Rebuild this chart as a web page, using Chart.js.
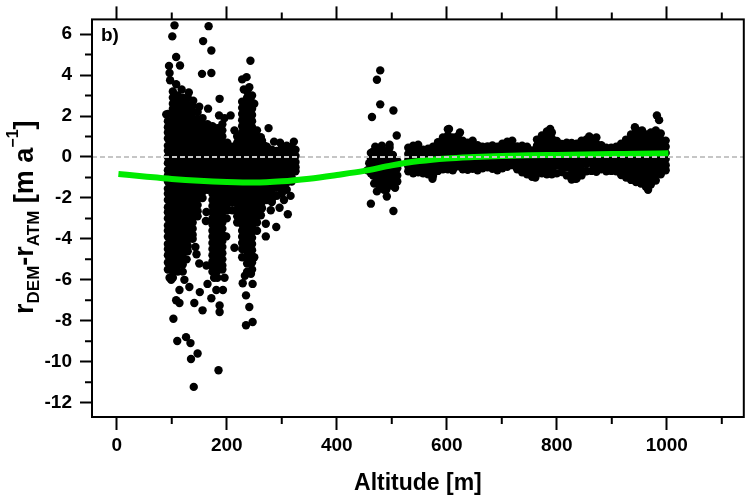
<!DOCTYPE html>
<html><head><meta charset="utf-8">
<script src="https://cdn.jsdelivr.net/npm/chart.js@4.4.0/dist/chart.umd.min.js"></script>
<style>html,body{margin:0;padding:0;background:#fff;}canvas{display:block;}</style>
</head><body>
<canvas id="c" width="748" height="497"></canvas>
<script>
const FONT = '"Liberation Sans", Arial, Helvetica, sans-serif';

// ---- axis ticks / labels ----
const xMajorTicks = [0, 200, 400, 600, 800, 1000];
const xMinorTicks = [100, 300, 500, 700, 900, 1100];
const yMajorTicks = [-12, -10, -8, -6, -4, -2, 0, 2, 4, 6];
const yMinorTicks = [-11, -9, -7, -5, -3, -1, 1, 3, 5];
const xTitle = 'Altitude [m]';
const panelLabel = 'b)';
const zeroLine = 0;
const yTitleParts = [
  {t: 'r', sz: 27, dy: 0}, {t: 'DEM', sz: 17, dy: 6}, {t: '-', sz: 27, dy: 0},
  {t: 'r', sz: 27, dy: 0}, {t: 'ATM', sz: 17, dy: 6}, {t: ' [m a', sz: 27, dy: 0},
  {t: '\u22121', sz: 16, dy: -15}, {t: ']', sz: 27, dy: 0}
];

// ---- green fit curve ----
const fitAlt = [3, 50, 100, 150, 200, 250, 300, 350, 400, 450, 500, 550, 600, 650, 700, 750, 800, 850, 900, 950, 1003];
const fitRes = [-0.83, -0.95, -1.07, -1.16, -1.22, -1.25, -1.19, -1.06, -0.88, -0.68, -0.41, -0.2, -0.07, 0.0, 0.05, 0.08, 0.1, 0.12, 0.14, 0.16, 0.18];

// ---- dense low-altitude cluster, by altitude column ----
const westAlt = [93, 102, 111, 120, 129, 138, 147, 156, 165, 174, 183, 192, 201, 210, 219, 228, 237, 246, 255, 264, 273, 282, 291, 300, 309, 318, 325];
const westRes = [
  [2.1, 1.75, 1.45, 1.2, 0.9, 0.55, 0.3, 0.0, -0.3, -0.65, -0.9, -1.2, -1.55, -1.8, -2.1, -2.45, -2.7, -3.0, -3.35, -3.6, -3.9, -4.25, -4.5, -4.8, -5.15, -5.5],
  [3.2, 2.9, 2.6, 2.35, 2.05, 1.75, 1.45, 1.15, 0.85, 0.6, 0.3, 0.0, -0.25, -0.55, -0.85, -1.15, -1.45, -1.75, -2.05, -2.35, -2.6, -2.9, -3.2, -3.5, -3.8, -4.1, -4.4, -4.7, -5.0, -5.3, -5.6, -5.9],
  [3.0, 2.7, 2.4, 2.1, 1.8, 1.55, 1.25, 0.95, 0.65, 0.35, 0.05, -0.25, -0.55, -0.85, -1.1, -1.4, -1.7, -2.0, -2.3, -2.6, -2.9, -3.2, -3.5, -3.8, -4.1, -4.4, -4.7, -5.0, -5.3, -5.6],
  [2.9, 2.6, 2.3, 2.0, 1.7, 1.4, 1.1, 0.8, 0.5, 0.2, -0.1, -0.4, -0.7, -1.0, -1.3, -1.6, -1.9, -2.2, -2.5, -2.8, -3.1, -3.4, -3.7, -4.0, -4.3, -4.6, -4.9, -5.25],
  [2.9, 2.55, 2.25, 1.95, 1.65, 1.35, 1.05, 0.75, 0.45, 0.15, -0.15, -0.45, -0.75, -1.05, -1.35, -1.65, -1.95, -2.25, -2.55, -2.85, -3.15, -3.45, -3.75, -4.05, -4.35, -4.6],
  [2.5, 2.2, 1.9, 1.6, 1.3, 1.0, 0.7, 0.4, 0.1, -0.2, -0.5, -0.8, -1.1, -1.4, -1.7, -2.0, -2.3, -2.6, -2.9, -3.2, -3.5, -3.8, -4.0],
  [2.2, 1.85, 1.55, 1.25, 0.95, 0.65, 0.35, 0.05, -0.25, -0.55, -0.85, -1.15, -1.45, -1.75, -2.05, -2.35, -2.65, -2.9],
  [1.9, 1.6, 1.3, 1.0, 0.7, 0.4, 0.1, -0.2, -0.5, -0.8, -1.1, -1.4, -1.7, -2.0],
  [1.6, 1.25, 0.95, 0.65, 0.35, 0.05, -0.25, -0.55, -0.85, -1.15, -1.4, -1.6],
  [1.5, 1.2, 0.9, 0.6, 0.3, 0.0, -0.3, -0.6, -0.9, -1.2, -1.5, -1.8, -2.1, -2.4, -2.7, -3.0, -3.3, -3.6, -3.9, -4.2, -4.5, -4.8, -5.1, -5.35, -5.6],
  [1.4, 1.05, 0.75, 0.45, 0.15, -0.15, -0.45, -0.75, -1.05, -1.35, -1.65, -1.95, -2.25, -2.55, -2.85, -3.15, -3.45, -3.75, -4.05, -4.35, -4.65, -4.95, -5.25, -5.55, -5.9],
  [1.6, 1.3, 1.0, 0.7, 0.4, 0.1, -0.2, -0.5, -0.8, -1.1, -1.4, -1.7, -2.0, -2.3, -2.6, -2.9, -3.2, -3.5, -3.8, -4.1, -4.4, -4.7, -5.0, -5.3, -5.5],
  [0.7, 0.4, 0.1, -0.2, -0.5, -0.8, -1.1, -1.4, -1.7, -2.0, -2.3, -2.6],
  [0.5, 0.2, -0.1, -0.4, -0.7, -1.0, -1.3, -1.6, -1.9, -2.2],
  [1.0, 0.7, 0.4, 0.1, -0.2, -0.5, -0.8, -1.1, -1.4, -1.7, -2.0, -2.3, -2.6, -2.9, -3.2],
  [2.7, 2.4, 2.1, 1.8, 1.5, 1.2, 0.9, 0.6, 0.3, 0.0, -0.3, -0.6, -0.9, -1.2, -1.5, -1.8, -2.1, -2.4, -2.7, -3.0, -3.3, -3.6, -3.9, -4.2, -4.5, -4.9],
  [3.2, 2.9, 2.6, 2.3, 2.0, 1.7, 1.4, 1.1, 0.8, 0.5, 0.2, -0.1, -0.4, -0.7, -1.0, -1.3, -1.6, -1.9, -2.2, -2.5, -2.8, -3.1, -3.4, -3.7, -4.0, -4.3, -4.6, -4.9, -5.2, -5.6],
  [3.0, 2.65, 2.35, 2.05, 1.75, 1.45, 1.15, 0.85, 0.55, 0.25, -0.05, -0.35, -0.65, -0.95, -1.25, -1.55, -1.85, -2.15, -2.45, -2.75, -3.05, -3.35, -3.65, -3.95, -4.25, -4.55, -4.85, -5.15, -5.5],
  [1.3, 1.0, 0.7, 0.4, 0.1, -0.2, -0.5, -0.8, -1.1, -1.4, -1.7, -2.0, -2.3, -2.6, -2.9, -3.2, -3.6],
  [0.8, 0.5, 0.2, -0.1, -0.4, -0.7, -1.0, -1.3, -1.6, -1.9, -2.2, -2.5],
  [0.5, 0.2, -0.1, -0.4, -0.7, -1.0, -1.3, -1.6, -1.9, -2.1],
  [0.35, 0.05, -0.25, -0.55, -0.85, -1.15, -1.45, -1.75, -2.05, -2.2],
  [0.3, 0.0, -0.3, -0.6, -0.9, -1.2, -1.5, -1.9],
  [0.45, 0.15, -0.15, -0.45, -0.75, -1.05, -1.35, -1.6, -1.8],
  [0.55, 0.25, -0.05, -0.35, -0.65, -0.95, -1.25, -1.6],
  [0.5, 0.2, -0.1, -0.4, -0.7, -1.0, -1.2],
  [0.35, 0.05, -0.25, -0.5, -0.7]
];

// ---- scattered points around the low-altitude cluster [altitude, residual] ----
const westOutliers = [
  [105, 6.43], [101, 5.89], [167, 6.39], [157, 5.66], [172, 5.2], [108, 4.88], [115, 4.47], [95, 4.45],
  [96, 4.1], [97, 3.75], [155, 4.06], [172, 4.1], [243, 4.7], [228, 3.79], [236, 3.9], [241, 3.41],
  [187, 2.84], [166, 2.36], [207, 2.03], [186, 2.03], [90, 2.08], [276, 1.41], [262, 0.97], [268, 0.56],
  [220, 1.05], [314, 0.45], [118, 3.3], [108, 3.55], [131, 3.15], [139, 2.75], [150, 2.45], [196, 1.9],
  [214, 1.3], [231, 3.3], [250, 2.6], [286, 0.75], [297, 0.7], [322, 0.75],
  [103, -7.9], [110, -8.99], [126, -8.8], [134, -9.09], [135, -9.87], [147, -9.6], [140, -11.23], [185, -10.42],
  [187, -7.25], [187, -7.57], [156, -7.49], [141, -7.13], [114, -6.5], [132, -6.35], [172, -6.9], [181, -6.5],
  [193, -6.5], [151, -6.6], [108, -7.0], [114, -7.13], [241, -7.33], [235, -8.22], [247, -8.06], [235, -6.76],
  [244, -5.7], [247, -6.2], [229, -6.17], [163, -5.3], [150, -5.2], [165, -6.2], [214, -4.43], [163, -2.69],
  [162, -3.13], [199, -3.88], [271, -3.88], [290, -3.42], [311, -2.8], [296, -2.48], [271, -3.26], [99, -6.0],
  [96, -5.9], [120, -5.6], [127, -5.0], [143, -4.4], [145, -4.75], [210, -2.6], [200, -3.0], [262, -2.85],
  [280, -2.6], [304, -2.1], [316, -1.9], [123, -6.0], [177, -5.9], [196, -5.9], [233, -5.8], [250, -4.9]
];

// ---- mid-altitude group near 460-510 m ----
const midAlt = [462, 470, 478, 486, 494, 502, 510];
const midRes = [
  [0.2, -0.1, -0.45, -0.8],
  [0.5, 0.2, -0.15, -0.5, -0.85, -1.25],
  [0.3, 0.0, -0.35, -0.7, -1.05, -1.45],
  [0.15, -0.2, -0.55, -0.9, -1.25, -1.6],
  [0.35, 0.0, -0.35, -0.7, -1.05, -1.4],
  [0.1, -0.25, -0.6, -0.95, -1.3],
  [-0.2, -0.55, -0.9, -1.2]
];
const midOutliers = [
  [456, -0.65], [459, -0.3], [465, 0.24], [466, -0.9], [472, 0.4], [475, -0.75], [476, -1.1],
  [481, 0.3], [484, -1.3], [490, -1.6], [496, 0.45], [500, -1.4], [506, -1.5],
  [473, -1.68], [491, -1.93], [462, -2.28], [503, -2.64], [464, 1.95], [479, 2.57], [473, 3.77],
  [479, 4.23], [503, 2.27], [509, 1.05], [496, 0.6], [468, -1.3], [482, 0.55]
];

// ---- high-altitude band, by altitude column ----
const bandAlt = [530, 539, 548, 557, 566, 575, 584, 593, 602, 611, 620, 629, 638, 647, 656, 665, 674, 683, 692, 701, 710, 719, 728, 737, 746, 755, 764, 773, 782, 791, 800, 809, 818, 827, 836, 845, 854, 863, 872, 881, 890, 899, 908, 917, 926, 935, 944, 953, 962, 971, 980, 989, 998];
const bandRes = [
  [0.45, 0.15, -0.15, -0.45, -0.7],
  [0.55, 0.25, -0.05, -0.35, -0.65, -0.8],
  [0.6, 0.3, 0.0, -0.3, -0.6, -0.75],
  [0.35, 0.05, -0.25, -0.55, -0.8],
  [0.4, 0.1, -0.2, -0.5, -0.85],
  [0.5, 0.2, -0.1, -0.4, -0.7, -0.92],
  [0.72, 0.42, 0.12, -0.18, -0.48, -0.68],
  [0.95, 0.65, 0.35, 0.05, -0.25, -0.6],
  [1.35, 1.05, 0.75, 0.45, 0.15, -0.15, -0.45, -0.6],
  [0.95, 0.65, 0.35, 0.05, -0.25, -0.55, -0.65],
  [1.02, 0.72, 0.42, 0.12, -0.18, -0.45],
  [0.8, 0.5, 0.2, -0.1, -0.4, -0.6],
  [0.7, 0.4, 0.1, -0.2, -0.45, -0.62],
  [0.8, 0.5, 0.2, -0.1, -0.4, -0.58],
  [0.58, 0.28, -0.02, -0.32, -0.65],
  [0.5, 0.2, -0.1, -0.35, -0.55],
  [0.52, 0.22, -0.08, -0.3, -0.5],
  [0.56, 0.26, -0.04, -0.34, -0.58],
  [0.5, 0.2, -0.1, -0.4, -0.65],
  [0.65, 0.35, 0.05, -0.25, -0.55],
  [0.75, 0.45, 0.15, -0.15, -0.48],
  [0.8, 0.5, 0.2, -0.1, -0.4],
  [0.52, 0.22, -0.08, -0.38, -0.6],
  [0.55, 0.25, -0.05, -0.35, -0.6, -0.75],
  [0.5, 0.2, -0.1, -0.4, -0.65, -0.85],
  [0.32, 0.02, -0.28, -0.58, -0.8, -0.97],
  [0.85, 0.55, 0.25, -0.05, -0.35, -0.6, -0.78],
  [1.05, 0.75, 0.45, 0.15, -0.15, -0.45, -0.8],
  [1.25, 0.95, 0.65, 0.35, 0.05, -0.25, -0.55, -0.85],
  [1.2, 0.9, 0.6, 0.3, 0.0, -0.3, -0.6, -0.85],
  [0.78, 0.48, 0.18, -0.12, -0.42, -0.8],
  [0.64, 0.34, 0.04, -0.26, -0.5, -0.73],
  [0.7, 0.4, 0.1, -0.2, -0.5, -0.9],
  [0.68, 0.38, 0.08, -0.22, -0.52, -0.8, -1.02],
  [0.65, 0.35, 0.05, -0.25, -0.55, -0.8, -1.05],
  [0.8, 0.5, 0.2, -0.1, -0.4, -0.7, -0.9],
  [0.86, 0.56, 0.26, -0.04, -0.34, -0.7],
  [0.9, 0.6, 0.3, 0.0, -0.3, -0.68],
  [0.95, 0.65, 0.35, 0.05, -0.25, -0.5, -0.72],
  [0.58, 0.28, -0.02, -0.32, -0.6],
  [0.45, 0.15, -0.15, -0.45, -0.7],
  [0.45, 0.15, -0.15, -0.45, -0.68],
  [0.5, 0.2, -0.1, -0.4, -0.7],
  [0.65, 0.35, 0.05, -0.25, -0.55, -0.88],
  [0.85, 0.55, 0.25, -0.05, -0.35, -0.65, -1.0],
  [1.1, 0.8, 0.5, 0.2, -0.1, -0.4, -0.7, -0.95, -1.12],
  [1.35, 1.05, 0.75, 0.45, 0.15, -0.15, -0.45, -0.75, -1.0, -1.22],
  [1.15, 0.85, 0.55, 0.25, -0.05, -0.35, -0.65, -0.95, -1.3],
  [1.1, 0.8, 0.5, 0.2, -0.1, -0.4, -0.7, -1.0, -1.25, -1.45],
  [1.2, 0.9, 0.6, 0.3, 0.0, -0.3, -0.6, -0.9, -1.15, -1.35],
  [1.3, 1.0, 0.7, 0.4, 0.1, -0.2, -0.5, -0.8, -1.15],
  [1.15, 0.85, 0.55, 0.25, -0.05, -0.35, -0.6, -0.85],
  [0.8, 0.5, 0.2, -0.1, -0.4, -0.65]
];
const bandOutliers = [
  [982, 2.03], [986, 1.8], [604, 1.37], [788, 1.37], [942, 1.45], [966, -1.6], [574, -1.06],
  [834, -1.06], [761, -1.0], [827, -1.1], [624, 1.2], [859, 1.0], [955, 1.3]
];

// ---- assemble scatter points ----
const points = [];
const addColumns = (alts, cols) => alts.forEach((a, i) => cols[i].forEach(r => points.push({x: a, y: r})));
const addPairs = list => list.forEach(p => points.push({x: p[0], y: p[1]}));
addColumns(westAlt, westRes); addPairs(westOutliers);
addColumns(midAlt, midRes); addPairs(midOutliers);
addColumns(bandAlt, bandRes); addPairs(bandOutliers);
const fitPoints = fitAlt.map((a, i) => ({x: a, y: fitRes[i]}));

const decor = {
  id: 'decor',
  afterDatasetsDraw(chart) {
    const {ctx, chartArea: a, scales: {y}} = chart;
    const y0 = y.getPixelForValue(zeroLine);
    ctx.save();
    ctx.strokeStyle = '#c6c6c6'; ctx.lineWidth = 2; ctx.setLineDash([5, 3]);
    ctx.beginPath(); ctx.moveTo(a.left, y0); ctx.lineTo(a.right, y0); ctx.stroke();
    ctx.restore();
  },
  afterDraw(chart) {
    const {ctx, chartArea: a, scales: {x, y}} = chart;
    ctx.save();
    ctx.strokeStyle = '#000'; ctx.lineWidth = 2;
    ctx.strokeRect(a.left, a.top, a.right - a.left, a.bottom - a.top);
    ctx.beginPath();
    yMinorTicks.forEach(v => { const p = y.getPixelForValue(v); ctx.moveTo(a.left - 7, p); ctx.lineTo(a.left, p); });
    xMinorTicks.forEach(v => { const p = x.getPixelForValue(v);
      ctx.moveTo(p, a.bottom); ctx.lineTo(p, a.bottom + 7);
      ctx.moveTo(p, a.top - 7); ctx.lineTo(p, a.top); });
    ctx.stroke();
    ctx.fillStyle = '#000';
    ctx.font = 'bold 19px ' + FONT; ctx.textAlign = 'left'; ctx.textBaseline = 'alphabetic';
    ctx.fillText(panelLabel, a.left + 9, a.top + 22);
    let total = 0;
    yTitleParts.forEach(s => { ctx.font = 'bold ' + s.sz + 'px ' + FONT; s.w = ctx.measureText(s.t).width; total += s.w; });
    ctx.translate(33, (a.top + a.bottom) / 2 - 1);
    ctx.rotate(-Math.PI / 2);
    let pos = -total / 2;
    yTitleParts.forEach(s => { ctx.font = 'bold ' + s.sz + 'px ' + FONT; ctx.fillText(s.t, pos, s.dy); pos += s.w; });
    ctx.restore();
  }
};

const tickFont = {family: FONT, size: 19, weight: 'bold'};
new Chart(document.getElementById('c'), {
  type: 'scatter',
  data: {
    datasets: [
      {type: 'line', data: fitPoints, borderColor: 'rgb(0,235,0)', borderWidth: 6, pointRadius: 0,
       cubicInterpolationMode: 'monotone', fill: false, order: 0},
      {data: points, backgroundColor: '#000', borderColor: '#000', borderWidth: 0, pointRadius: 4.2,
       pointHoverRadius: 4.2, order: 1}
    ]
  },
  options: {
    responsive: false, animation: false, devicePixelRatio: 1, events: [],
    layout: {padding: {left: 0, right: 2, top: 0, bottom: 0}},
    plugins: {legend: {display: false}, tooltip: {enabled: false}},
    scales: {
      x: {
        type: 'linear', position: 'bottom', min: -45, max: 1140,
        afterFit: s => { s.height = 80; },
        afterBuildTicks: s => { s.ticks = xMajorTicks.map(v => ({value: v})); },
        ticks: {font: tickFont, color: '#000', padding: 4, maxRotation: 0, autoSkip: false, callback: v => String(v)},
        grid: {drawOnChartArea: false, tickLength: 13, tickWidth: 2, tickColor: '#000'},
        border: {display: false},
        title: {display: true, text: xTitle, color: '#000', font: {family: FONT, size: 23, weight: 'bold'}, padding: {top: 0, bottom: 0}}
      },
      x2: {
        type: 'linear', position: 'top', min: -45, max: 1140,
        afterFit: s => { s.height = 19; },
        afterBuildTicks: s => { s.ticks = xMajorTicks.map(v => ({value: v})); },
        ticks: {display: false},
        grid: {drawOnChartArea: false, tickLength: 13, tickWidth: 2, tickColor: '#000'},
        border: {display: false}
      },
      y: {
        type: 'linear', position: 'left', min: -12.7, max: 6.72,
        afterFit: s => { s.width = 92; },
        afterBuildTicks: s => { s.ticks = yMajorTicks.map(v => ({value: v})); },
        ticks: {font: tickFont, color: '#000', padding: 8, autoSkip: false, callback: v => String(v)},
        grid: {drawOnChartArea: false, tickLength: 12, tickWidth: 2, tickColor: '#000'},
        border: {display: false}
      }
    }
  },
  plugins: [decor]
});
</script>
</body></html>
